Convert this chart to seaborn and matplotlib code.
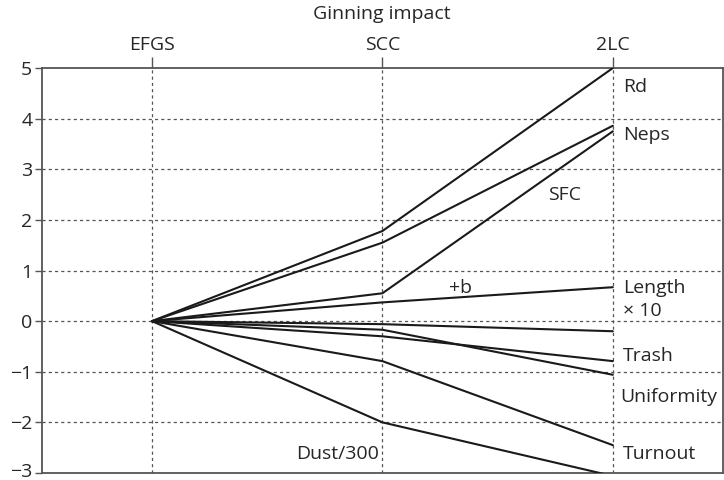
import matplotlib
matplotlib.use("Agg")
import matplotlib.pyplot as plt
import matplotlib.transforms as mtransforms
import numpy as np
import pandas as pd
import seaborn as sns

# Ginning systems compared along the top axis
systems = ["EFGS", "SCC", "2LC"]

# Change relative to EFGS for each fibre property (EFGS is the zero baseline)
rd = [0.0, 1.78, 5.0]
neps = [0.0, 1.55, 3.86]
sfc = [0.0, 0.55, 3.75]
plus_b = [0.0, 0.37, 0.67]
length_x10 = [0.0, -0.06, -0.2]
trash = [0.0, -0.3, -0.79]
uniformity = [0.0, -0.17, -1.06]
turnout = [0.0, -0.79, -2.45]
dust_300 = [0.0, -2.0, -3.06]

series = {
    "Rd": rd, "Neps": neps, "SFC": sfc, "+b": plus_b,
    "Length x 10": length_x10, "Trash": trash, "Uniformity": uniformity,
    "Turnout": turnout, "Dust/300": dust_300,
}

rows = []
for name, vals in series.items():
    for i, v in enumerate(vals):
        rows.append({"series": name, "pos": i, "value": v})
df = pd.DataFrame(rows)

sns.set_style("white")
plt.rcParams["font.family"] = ["Open Sans", "DejaVu Sans"]

fig = plt.figure(figsize=(7.24, 4.80), dpi=100)
ax = fig.add_axes([0.058, 0.0146, 0.940, 0.8437])

grid_kw = dict(color="#555555", lw=0.9, ls=(0, (2.5, 2.5)), zorder=0)
for y in range(-2, 5):
    ax.axhline(y, **grid_kw)
for x in range(len(systems)):
    ax.axvline(x, **grid_kw)

sns.lineplot(data=df, x="pos", y="value", hue="series", units="series",
             estimator=None, palette=["#1a1a1a"] * len(series), legend=False,
             lw=1.5, ax=ax, zorder=3)

ax.set_xlim(-0.477, 2.476)
ax.set_ylim(-3, 5)
ax.set_yticks(range(-3, 6))
ax.tick_params(axis="y", labelsize=14, length=5, width=1, color="#555555",
               direction="out", left=True, pad=2)
ax.xaxis.tick_top()
ax.set_xticks(range(len(systems)))
ax.set_xticklabels(systems)
ax.tick_params(axis="x", labelsize=14, length=8, width=1, color="#555555",
               direction="out", top=True, bottom=False, pad=2)
ax.xaxis.set_label_position("top")
ax.set_xlabel("Ginning impact", fontsize=14, labelpad=12)
ax.set_ylabel("")

# lift the lowest tick label so it stays inside the figure
lowest = ax.get_yticklabels()[0]
lowest.set_transform(lowest.get_transform() +
                     mtransforms.ScaledTranslation(0, 3 / 100, fig.dpi_scale_trans))

for sp in ax.spines.values():
    sp.set_visible(True)
    sp.set_color("#555555")
    sp.set_linewidth(1.3)

fs = 14
ax.text(2.043, 4.63, "Rd", fontsize=fs, va="center", ha="left")
ax.text(2.043, 3.67, "Neps", fontsize=fs, va="center", ha="left")
ax.text(1.72, 2.5, "SFC", fontsize=fs, va="center", ha="left")
ax.text(1.34, 0.65, "+b", fontsize=fs, va="center", ha="center")
ax.text(2.043, 0.65, "Length", fontsize=fs, va="center", ha="left")
ax.text(2.043, 0.2, "\u00d7 10", fontsize=fs, va="center", ha="left")
ax.text(2.043, -0.69, "Trash", fontsize=fs, va="center", ha="left")
ax.text(2.03, -1.5, "Uniformity", fontsize=fs, va="center", ha="left")
ax.text(2.043, -2.62, "Turnout", fontsize=fs, va="center", ha="left")
ax.text(0.985, -2.62, "Dust/300", fontsize=fs, va="center", ha="right")

fig.savefig("out.png", dpi=100)
